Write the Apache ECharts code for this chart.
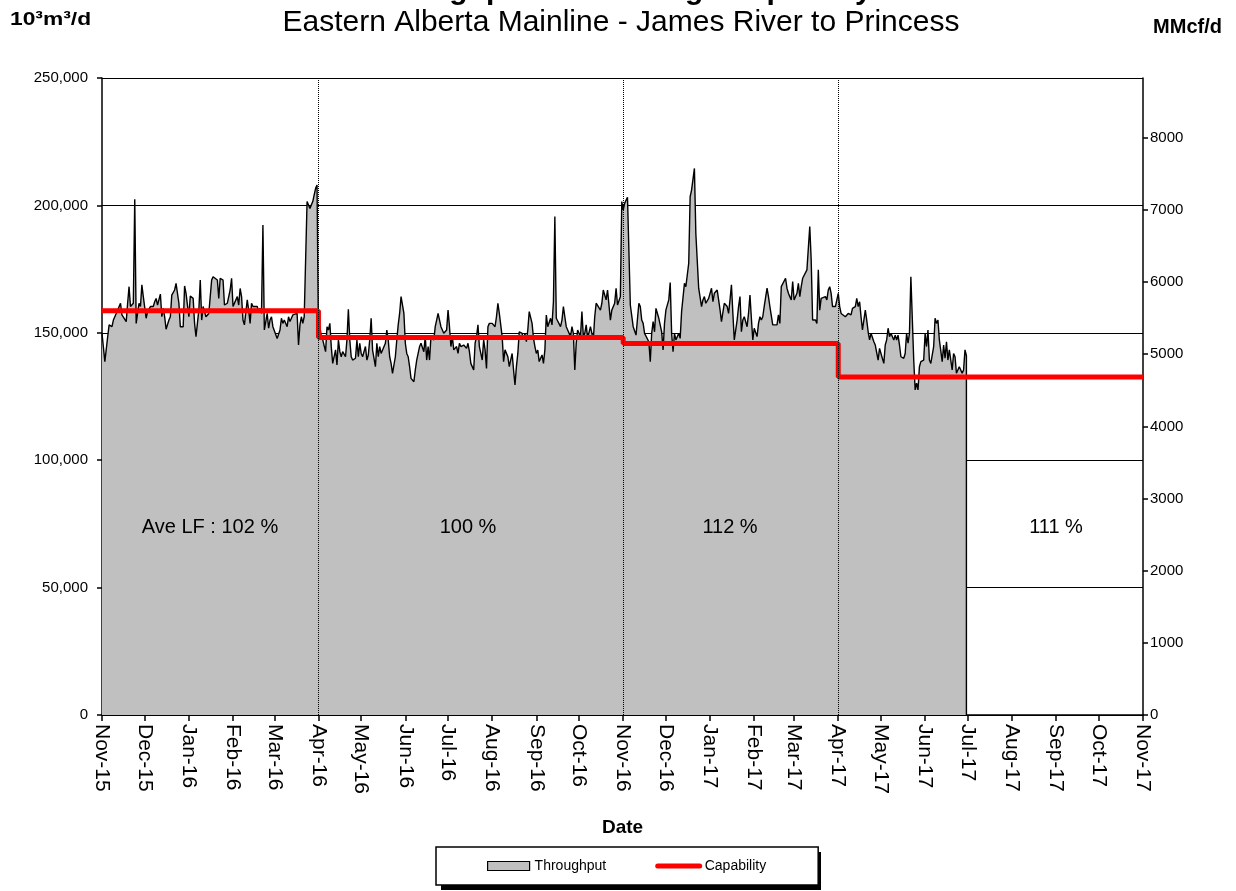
<!DOCTYPE html>
<html>
<head>
<meta charset="utf-8">
<script src="https://cdn.jsdelivr.net/npm/echarts@6/dist/echarts.min.js"></script>
<style>
html,body{margin:0;padding:0;background:#fff;}
#chart{width:1236px;height:891px;}
</style>
</head>
<body>
<div id="chart"></div>
<script>
// ---- data ----
const monthLabels = ['Nov-15','Dec-15','Jan-16','Feb-16','Mar-16','Apr-16','May-16','Jun-16','Jul-16','Aug-16','Sep-16','Oct-16',
  'Nov-16','Dec-16','Jan-17','Feb-17','Mar-17','Apr-17','May-17','Jun-17','Jul-17','Aug-17','Sep-17','Oct-17','Nov-17'];
// days since 1 Nov 2015
const throughputDay = [
0,2,4,5,7,8,9,10,11,13,14,15,17,18,19,20,22,23,24,26,27,28,29,31,32,34,35,36,37,38,39,41,42,43,44,45,47,48,49,50,51,52,54,55,57,58,59,61,62,63,64,65,66,68,69,70,71,72,73,75,76,77,78,79,81,82,83,84,85,86,88,89,90,91,92,93,95,96,97,98,99,100,102,103,104,105,106,107,109,110,111,112,113,114,116,117,118,119,120,123,125,
126,127,128,130,131,132,133,134,135,137,138,139,140,141,142,144,145,146,147,148,149,150,151,152,153,154,155,157,158,159,160,161,162,164,165,166,167,168,169,171,172,173,174,175,176,178,179,180,181,182,183,185,186,187,188,189,190,192,193,194,195,196,197,199,200,201,202,203,204,206,207,208,209,210,212,213,214,215,216,217,219,220,221,222,223,224,226,227,228,229,230,231,233,234,235,236,237,238,240,241,242,243,244,245,
246,247,248,249,250,251,252,254,255,256,257,258,259,261,262,263,264,265,267,268,269,270,271,272,274,275,276,277,278,279,281,282,283,284,285,286,288,289,290,291,292,293,295,296,297,298,299,300,302,303,304,305,306,307,309,310,311,312,313,315,316,317,318,319,320,322,323,324,325,326,327,329,330,331,332,333,334,336,337,338,339,340,341,343,344,345,346,347,348,350,351,352,353,354,355,357,358,359,360,361,362,364,365,366,367,368,369,
371,372,373,374,375,377,378,379,380,381,382,384,385,386,387,388,389,391,392,393,394,395,396,398,399,400,401,402,403,405,406,407,408,409,410,412,413,414,415,416,417,419,420,421,422,423,424,426,427,428,429,430,432,433,434,435,436,437,439,440,441,442,443,444,446,447,448,449,450,451,453,454,455,456,457,458,460,461,462,463,464,465,467,468,469,470,471,472,474,475,476,477,478,480,481,482,483,484,485,486,488,489,490,491,492,
493,495,496,497,498,499,501,502,503,504,505,506,508,509,510,511,512,513,515,516,517,518,519,520,522,523,524,525,526,527,529,530,531,532,533,534,536,537,538,539,540,542,543,544,545,546,547,549,550,551,552,553,554,556,557,558,559,560,561,563,564,565,566,567,568,570,571,572,573,574,575,577,578,579,580,581,582,584,585,586,587,588,590,591,592,593,594,595,597,598,599,600,601,602,604,605,606,607,607];
// throughput, thousand 10^3 m3/d
const throughputValue = [
149.8,138.7,148.5,153.1,152.4,155.0,155.7,157.6,158.9,161.6,157.0,156.3,154.4,161.6,168.1,160.3,161.6,202.4,153.7,161.6,160.3,168.8,164.2,155.7,158.3,160.3,160.9,160.3,162.2,163.5,160.9,165.2,156.3,159.6,156.3,151.4,155.0,156.3,164.8,165.2,166.8,169.4,161.6,152.4,152.4,168.4,165.5,156.3,164.4,164.8,163.5,153.7,148.5,158.9,170.7,155.0,160.3,160.3,156.3,157.6,164.2,170.7,172.0,171.4,170.7,163.5,171.4,171.4,170.7,160.9,161.6,164.2,166.8,171.4,160.3,159.6,164.2,160.9,167.4,164.2,155.0,153.1,162.9,158.9,153.7,161.6,160.3,160.9,160.3,158.3,159.6,157.6,192.3,151.1,157.6,151.8,155.0,156.3,152.4,147.8,151.1,
155.7,153.7,155.0,152.4,156.3,154.4,155.0,157.0,157.6,157.6,145.2,153.1,156.3,153.7,156.3,201.5,202.1,198.8,200.2,201.5,204.1,206.7,208.0,148.5,152.4,148.5,147.2,142.6,152.4,151.1,153.7,144.5,138.0,143.3,137.4,147.2,142.6,140.6,142.6,140.6,147.2,159.2,147.2,140.6,139.3,140.0,147.2,140.6,145.9,141.9,140.6,144.6,139.3,141.3,147.2,155.7,143.2,136.7,145.9,140.6,144.6,141.9,141.3,145.9,151.1,147.2,140.6,138.0,134.1,140.6,147.2,153.1,157.6,164.2,157.6,145.9,141.9,140.6,136.7,132.1,130.8,135.4,139.3,141.9,144.6,145.9,142.6,148.5,139.3,144.6,139.3,148.5,147.2,152.4,155.0,157.6,158.3,152.4,149.8,150.4,151.1,158.9,152.4,144.6,
148.5,143.3,142.6,144.6,141.9,145.9,144.6,145.2,144.6,143.9,145.9,142.6,138.0,135.4,145.9,148.5,153.1,144.6,139.3,147.2,143.3,136.0,152.4,153.7,153.7,154.4,152.4,156.3,161.6,157.6,148.5,138.7,143.3,142.6,140.6,136.7,141.9,135.4,129.5,136.7,141.9,150.4,149.8,147.2,149.8,146.5,151.1,158.3,153.7,147.8,144.6,141.9,143.2,138.7,141.3,138.0,143.3,157.0,152.4,155.7,153.1,162.2,195.6,155.7,156.3,152.4,155.0,160.3,156.3,152.4,151.1,148.5,152.4,149.8,135.4,145.9,151.1,148.5,158.3,148.5,149.8,153.1,147.8,152.4,149.8,147.2,156.3,161.6,161.6,158.9,161.6,166.8,166.8,162.9,166.8,155.0,158.9,159.6,161.6,167.5,160.9,164.2,201.5,198.2,200.8,202.0,203.2,
160.9,160.3,152.4,153.1,149.1,161.6,160.3,155.0,153.7,149.8,150.4,146.5,138.7,149.8,154.4,150.4,159.6,155.7,155.0,150.4,143.3,153.7,159.0,162.9,169.7,149.8,142.6,149.8,147.2,149.8,147.8,158.3,158.3,169.4,168.1,177.3,203.4,206.0,206.7,214.5,189.0,167.5,166.8,160.3,162.9,164.2,161.6,163.5,164.2,167.5,162.2,165.5,166.8,162.9,159.0,154.4,155.0,161.6,160.3,157.6,162.9,168.8,157.6,147.2,155.0,160.3,164.2,150.4,155.0,156.3,152.4,157.6,164.8,155.7,147.2,151.8,148.5,153.7,156.3,155.0,156.3,160.3,167.5,164.2,160.3,160.3,153.1,153.1,153.1,157.0,153.7,168.1,168.1,171.4,167.5,165.5,164.2,162.9,170.1,162.9,165.5,169.4,164.2,168.1,171.4,
172.0,174.7,175.3,191.7,178.6,155.0,155.0,153.7,174.7,158.9,163.5,162.9,164.2,162.9,166.8,168.1,165.5,160.3,160.3,159.6,165.5,160.3,157.6,158.3,156.3,155.7,157.6,158.3,157.0,159.6,160.3,163.5,160.3,162.2,156.3,151.1,158.9,155.0,150.4,147.2,149.8,146.5,145.2,144.6,139.3,143.9,141.9,138.0,145.2,147.2,151.8,148.5,149.8,147.2,149.1,147.2,149.1,145.2,140.6,140.0,141.9,149.8,145.9,149.8,172.0,139.3,127.6,130.2,127.6,136.7,138.7,139.3,149.8,144.6,151.1,139.3,138.0,144.6,155.7,153.7,155.0,147.2,138.7,145.2,140.0,146.5,139.3,143.3,135.4,141.9,140.6,134.1,134.1,136.7,134.1,135.4,143.3,141.0,0];
// capability periods (start day, 10^3 m3/d)
const capabilityStartDay = [0, 152, 366, 517];
const capabilityEndDay = 731;
const capabilityValue = [158700, 148200, 145800, 132700];
const periodDividerDay = [152, 366, 517];
const loadFactorLabels = ['Ave LF : 102 %', '100 %', '112 %', '111 %'];
const m3ToMMcf = 0.0353147;

// ---- build ----
const base = Date.UTC(2015, 10, 1);
const monthDay = monthLabels.map((_, i) => Math.round((Date.UTC(2015, 10 + i, 1) - base) / 86400000));
const tpData = throughputDay.map((d, i) => [d, Math.round(throughputValue[i] * 1000)]);
const capData = [];
capabilityStartDay.forEach((s, i) => {
  const e = i + 1 < capabilityStartDay.length ? capabilityStartDay[i + 1] : capabilityEndDay;
  capData.push([s, capabilityValue[i]]);
  capData.push([e, capabilityValue[i]]);
});

const FONT = 'Liberation Sans, Arial, sans-serif';
const chart = echarts.init(document.getElementById('chart'));
const lfPos = [210, 468, 730, 1056];

chart.setOption({
  animation: false,
  backgroundColor: '#fff',
  textStyle: { fontFamily: FONT, color: '#000' },
  grid: { left: 102, right: 93, top: 78, bottom: 176 },
  legend: {
    left: 436, top: 847,
    padding: [12, 52, 12, 51],
    itemGap: 49, itemWidth: 42, itemHeight: 9,
    backgroundColor: '#fff', borderColor: '#000', borderWidth: 1.5,
    textStyle: { fontFamily: FONT, fontSize: 14, color: '#000' },
    data: [
      { name: 'Throughput', icon: 'rect', itemStyle: { color: '#c0c0c0', borderColor: '#000', borderWidth: 1.2 } },
      { name: 'Capability', itemStyle: { opacity: 0 }, lineStyle: { color: '#ff0000', width: 5, cap: 'round' } }
    ]
  },
  graphic: [
    { type: 'rect', z: 0, shape: { x: 441, y: 852, width: 380, height: 38 }, style: { fill: '#000' } },
    { type: 'text', left: 'center', top: -24, style: { text: 'Throughput and Average Capability', font: 'bold 30px ' + FONT, fill: '#000' } },
    { type: 'text', x: 621, y: 23, style: { text: 'Eastern Alberta Mainline - James River to Princess', font: '30px ' + FONT, fill: '#000', align: 'center', verticalAlign: 'middle' } },
    { type: 'text', x: 10, y: 20, scaleX: 1.2, style: { text: '10³m³/d', font: 'bold 19px ' + FONT, fill: '#000', align: 'left', verticalAlign: 'middle' } },
    { type: 'text', x: 1222, y: 27, style: { text: 'MMcf/d', font: 'bold 20px ' + FONT, fill: '#000', align: 'right', verticalAlign: 'middle' } }
  ].concat(loadFactorLabels.map((t, i) => ({
    type: 'text', x: lfPos[i], y: 527, z: 10,
    style: { text: t, font: '20px ' + FONT, fill: '#000', align: 'center', verticalAlign: 'middle' }
  }))),
  xAxis: {
    type: 'value', min: 0, max: 731,
    name: 'Date', nameLocation: 'middle', nameGap: 103,
    nameTextStyle: { fontFamily: FONT, fontSize: 19, fontWeight: 'bold', color: '#000' },
    axisLine: { show: true, onZero: false, lineStyle: { color: '#000', width: 1.5 } },
    axisTick: { show: true, length: 6, customValues: monthDay, lineStyle: { color: '#000', width: 1.5 } },
    axisLabel: {
      customValues: monthDay, rotate: -90, margin: 9, fontSize: 21, color: '#000', fontFamily: FONT,
      formatter: v => monthLabels[monthDay.indexOf(Math.round(v))] || ''
    },
    splitLine: { show: false }
  },
  yAxis: [
    {
      type: 'value', min: 0, max: 250000, interval: 50000,
      axisLine: { show: true, lineStyle: { color: '#000', width: 1.5 } },
      axisTick: { show: true, length: 5, lineStyle: { color: '#000', width: 1.5 } },
      axisLabel: { fontSize: 15, color: '#000', fontFamily: FONT, margin: 14,
        formatter: v => String(v).replace(/\B(?=(\d{3})+(?!\d))/g, ',') },
      splitLine: { show: true, lineStyle: { color: '#000', width: 1.2 } }
    },
    {
      type: 'value', position: 'right', min: 0, max: 250000 * m3ToMMcf, interval: 1000,
      axisLine: { show: true, lineStyle: { color: '#000', width: 1.5 } },
      axisTick: { show: true, length: 5, lineStyle: { color: '#000', width: 1.5 } },
      axisLabel: { fontSize: 15, color: '#000', fontFamily: FONT, margin: 7, showMaxLabel: false,
        formatter: v => String(Math.round(v)) },
      splitLine: { show: false }
    }
  ],
  series: [
    {
      name: 'Throughput', type: 'line', yAxisIndex: 0, data: tpData,
      symbol: 'none', z: 2,
      lineStyle: { color: '#000', width: 1.4 },
      itemStyle: { color: '#c0c0c0', borderColor: '#000' },
      areaStyle: { color: '#c0c0c0', opacity: 1 },
      markLine: {
        silent: true, symbol: 'none', label: { show: false },
        lineStyle: { color: '#000', type: 'dotted', width: 1 },
        data: periodDividerDay.map(d => ({ xAxis: d }))
      }
    },
    {
      name: 'Capability', type: 'line', yAxisIndex: 0, data: capData,
      symbol: 'none', z: 3,
      lineStyle: { color: '#ff0000', width: 5 },
      itemStyle: { color: '#ff0000' }
    }
  ]
});
</script>
</body>
</html>
